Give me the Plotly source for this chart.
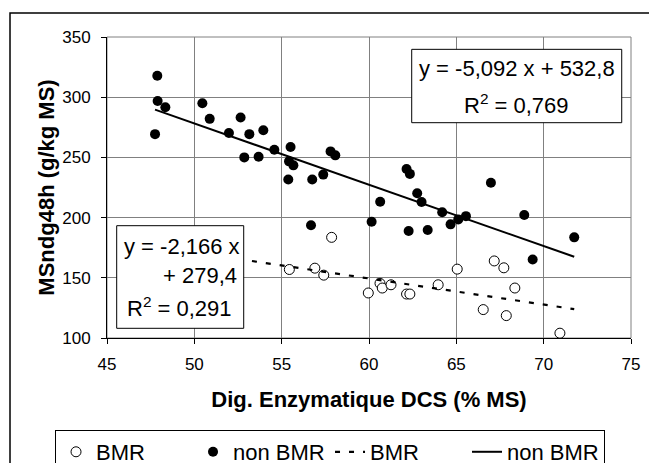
import plotly.graph_objects as go

# ---- data ----
bmr_x = [55.44, 56.9, 57.41, 57.86, 59.96, 60.63, 60.76, 61.26, 62.15, 62.34,
         63.96, 65.05, 67.17, 67.72, 68.35, 66.54, 67.86, 70.93]
bmr_y = [156.9, 158.0, 152.2, 183.6, 137.4, 145.4, 141.5, 144.2, 136.5, 136.5,
         144.2, 157.2, 164.0, 158.3, 141.5, 123.6, 118.6, 104.0]

nonbmr_x = [47.88, 47.9, 48.34, 47.75, 50.46, 50.88, 51.98, 52.65, 53.15, 52.86,
            53.68, 53.95, 54.58, 55.51, 55.42, 55.67, 55.38, 56.75, 57.38, 57.8,
            58.07, 56.68, 62.15, 62.34, 60.64, 62.76, 63.01, 60.15, 62.27, 63.36,
            64.19, 64.67, 65.11, 65.55, 66.98, 68.89, 69.37, 71.75]
nonbmr_y = [317.8, 296.9, 291.6, 269.3, 295.0, 282.0, 270.2, 283.1, 269.3, 250.0,
            250.6, 272.6, 256.4, 258.6, 246.7, 243.4, 231.6, 231.6, 235.7, 255.0,
            251.7, 193.6, 240.4, 236.3, 213.2, 220.2, 213.0, 196.6, 188.9, 189.7,
            204.5, 194.4, 198.5, 201.2, 228.9, 202.2, 165.2, 183.6]

# trend line equations (as printed on the chart)
bmr_slope, bmr_intercept, bmr_r2 = -2.166, 279.4, 0.291
nonbmr_slope, nonbmr_intercept, nonbmr_r2 = -5.092, 532.8, 0.769

x_ticks = [45, 50, 55, 60, 65, 70, 75]
y_ticks = [100, 150, 200, 250, 300, 350]

x_title = "Dig. Enzymatique DCS (% MS)"
y_title = "MSndg48h (g/kg MS)"
series_names = ["BMR", "non BMR"]

FONT = "Liberation Sans, Arial, sans-serif"

trend_x = [min(nonbmr_x), max(nonbmr_x)]
bmr_trend_y = [bmr_slope * v + bmr_intercept for v in trend_x]
nonbmr_trend_y = [nonbmr_slope * v + nonbmr_intercept for v in trend_x]

fig = go.Figure()
fig.add_trace(go.Scatter(
    x=bmr_x, y=bmr_y, mode="markers", name=series_names[0],
    marker=dict(symbol="circle", size=10, color="white",
                line=dict(color="black", width=1))))
fig.add_trace(go.Scatter(
    x=nonbmr_x, y=nonbmr_y, mode="markers", name=series_names[1],
    marker=dict(symbol="circle", size=10, color="black",
                line=dict(color="black", width=0))))
fig.add_trace(go.Scatter(
    x=trend_x, y=bmr_trend_y, mode="lines", name=series_names[0],
    line=dict(color="black", width=2.2, dash="5px,9px")))
fig.add_trace(go.Scatter(
    x=trend_x, y=nonbmr_trend_y, mode="lines", name=series_names[1],
    line=dict(color="black", width=2)))


def fmt(v, nd):
    return f"{v:.{nd}f}".replace(".", ",")


annotations = [
    dict(text=f"y = {fmt(nonbmr_slope, 3)} x + {fmt(nonbmr_intercept, 1)}",
         x=0.7819, y=0.8937, xanchor="center", yanchor="middle"),
    dict(text=f"R<sup>2</sup> = {fmt(nonbmr_r2, 3)}",
         x=0.7819, y=0.7774, xanchor="center", yanchor="middle"),
    dict(text=f"y = {fmt(bmr_slope, 3)} x",
         x=0.1425, y=0.3056, xanchor="center", yanchor="middle"),
    dict(text=f"+ {fmt(bmr_intercept, 1)}",
         x=0.2519, y=0.2093, xanchor="right", yanchor="middle"),
    dict(text=f"R<sup>2</sup> = {fmt(bmr_r2, 3)}",
         x=0.1393, y=0.1039, xanchor="center", yanchor="middle"),
]
for a in annotations:
    a.update(xref="paper", yref="paper", showarrow=False,
             font=dict(family=FONT, size=22, color="black"))

shapes = [
    # plot area frame (grey)
    dict(type="rect", xref="paper", yref="paper", x0=0, x1=1, y0=0, y1=1,
         line=dict(color="#808080", width=1), layer="below"),
    # equation boxes
    dict(type="rect", xref="paper", yref="paper", x0=0.5815, x1=0.9823,
         y0=0.7153, y1=0.959, line=dict(color="black", width=1),
         fillcolor="white", layer="above"),
    dict(type="rect", xref="paper", yref="paper", x0=0.0185, x1=0.2609,
         y0=0.0322, y1=0.3731, line=dict(color="black", width=1),
         fillcolor="white", layer="above"),
    # outer chart frame
    dict(type="rect", xref="paper", yref="paper", x0=-0.1851, x1=1.06,
         y0=-0.45, y1=1.0797, line=dict(color="black", width=1.5)),
]

fig.update_layout(
    width=649, height=463,
    margin=dict(l=107, r=18, t=37, b=125, autoexpand=False),
    paper_bgcolor="white", plot_bgcolor="white",
    font=dict(family=FONT, size=17, color="black"),
    showlegend=True,
    legend=dict(orientation="h", x=-0.0992, xanchor="left", y=-0.3056,
                yanchor="top", bordercolor="black", borderwidth=1,
                font=dict(family=FONT, size=22, color="black"),
                bgcolor="white", traceorder="normal", itemsizing="trace",
                entrywidth=92, entrywidthmode="pixels"),
    annotations=annotations,
    shapes=shapes,
)

fig.update_xaxes(
    range=[45, 75], tickvals=x_ticks, ticktext=[str(v) for v in x_ticks],
    showgrid=True, gridcolor="#808080", gridwidth=1,
    showline=True, linecolor="black", linewidth=1,
    ticks="outside", ticklen=5, tickcolor="black", ticklabelstandoff=6,
    ticklabeloverflow="allow", automargin=False,
    zeroline=False, tickfont=dict(size=17),
    title=dict(text=f"<b>{x_title}</b>", font=dict(size=22), standoff=18))
fig.update_yaxes(
    range=[100, 350], tickvals=y_ticks, ticktext=[str(v) for v in y_ticks],
    showgrid=True, gridcolor="#808080", gridwidth=1,
    showline=True, linecolor="black", linewidth=1,
    ticks="outside", ticklen=5, tickcolor="black", ticklabelstandoff=7,
    automargin=False,
    zeroline=False, tickfont=dict(size=17),
    title=dict(text=f"<b>{y_title}</b>", font=dict(size=22), standoff=1))

# remove the browser's default page margin so the 649x463 figure fills the window
fig.write_html("out.html",
               config={"displayModeBar": False},
               post_script="document.body.style.margin='0';"
                           "document.body.style.overflow='hidden';")
